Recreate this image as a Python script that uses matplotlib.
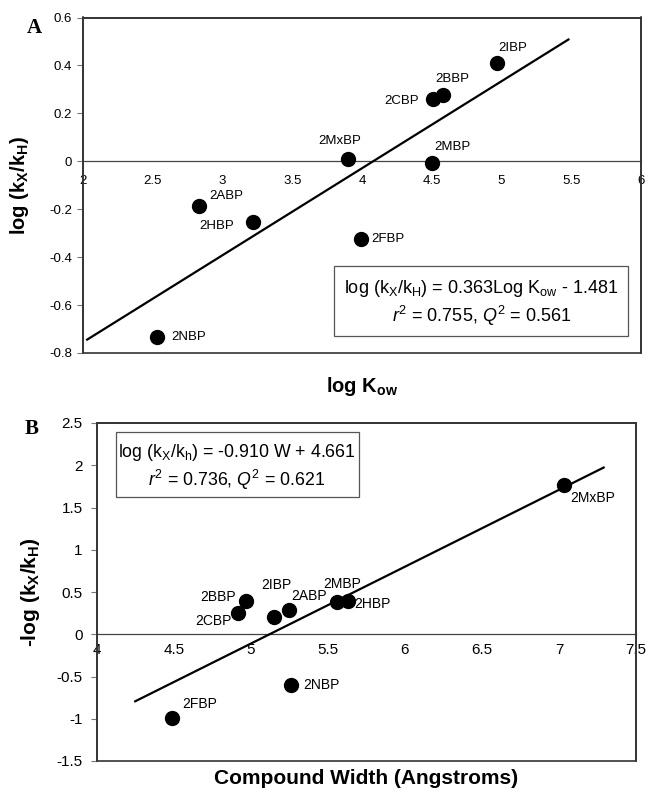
import matplotlib
matplotlib.use('Agg')
import matplotlib.pyplot as plt
from matplotlib.patches import Rectangle
from matplotlib.ticker import FuncFormatter
import numpy as np

plt.rcParams['font.family'] = ['Liberation Sans', 'DejaVu Sans']
plt.rcParams['axes.unicode_minus'] = False
plt.rcParams['mathtext.fontset'] = 'custom'
plt.rcParams['mathtext.rm'] = 'Liberation Sans'
plt.rcParams['mathtext.it'] = 'Liberation Sans:italic'
plt.rcParams['mathtext.bf'] = 'Liberation Sans:bold'

# panel A: log Kow vs log(kX/kH)
names_a = ['2IBP', '2BBP', '2CBP', '2MxBP', '2MBP', '2ABP', '2HBP', '2FBP', '2NBP']
logkow = [4.97, 4.58, 4.51, 3.90, 4.50, 2.83, 3.22, 3.99, 2.53]
logk_a = [0.411, 0.278, 0.258, 0.010, -0.008, -0.186, -0.254, -0.325, -0.735]
fit_a = (0.363, -1.481)
fit_a_range = (2.03, 5.48)

# panel B: compound width vs -log(kX/kH)
names_b = ['2MxBP', '2BBP', '2CBP', '2IBP', '2ABP', '2MBP', '2HBP', '2NBP', '2FBP']
width = [7.03, 4.97, 4.92, 5.15, 5.25, 5.56, 5.63, 5.26, 4.49]
logk_b = [1.765, 0.395, 0.253, 0.200, 0.290, 0.387, 0.395, -0.596, -0.987]
fit_b = (0.910, -4.661)
fit_b_range = (4.25, 7.29)

# label offsets (points)
off_a = [(11, 11), (7, 11), (-23, -1), (-6, 13), (15, 12), (20, 7), (-26, -3), (20, 0), (23, 0)]
off_b = [(21, -9), (-20, 3), (-18, -6), (2, 23), (14, 10), (4, 12.5), (18, -2), (22, 0), (20, 9.5)]


def tick_fmt(v, p):
    v = round(v, 3)
    if abs(v) < 1e-9:
        return '0'
    return '%g' % v


fmt = FuncFormatter(tick_fmt)
frame_col = '#333333'


def style_axes(ax, xlim, ylim, xticks, yticks, fs, xpad, ypad):
    ax.set_xlim(*xlim)
    ax.set_ylim(*ylim)
    ax.set_xticks(xticks)
    ax.set_yticks(yticks)
    ax.xaxis.set_major_formatter(fmt)
    ax.yaxis.set_major_formatter(fmt)
    ax.spines['bottom'].set_position(('data', 0))
    ax.spines['bottom'].set_color('#444444')
    ax.spines['bottom'].set_linewidth(0.9)
    for s in ['left', 'top', 'right']:
        ax.spines[s].set_color(frame_col)
        ax.spines[s].set_linewidth(1.2)
    ax.add_patch(Rectangle((0, 0), 1, 1, transform=ax.transAxes, fill=False,
                           edgecolor=frame_col, lw=1.2, clip_on=False, zorder=5))
    ax.tick_params(axis='y', direction='out', length=4, width=0.8, color='#777777',
                   labelsize=fs, pad=ypad)
    ax.tick_params(axis='x', direction='out', length=0, labelsize=fs, pad=xpad)


fig = plt.figure(figsize=(6.48, 7.89), dpi=100)

# ---- panel A
ax1 = fig.add_axes([83 / 648, 1 - 353 / 789, 558 / 648, 335.5 / 789])
style_axes(ax1, (2, 6), (-0.8, 0.6), np.arange(2, 6.01, 0.5),
           np.arange(-0.8, 0.61, 0.2), 9.5, 10, 4)
xf = np.linspace(*fit_a_range, 2)
ax1.plot(xf, fit_a[0] * xf + fit_a[1], color='black', lw=1.6, zorder=3)
ax1.plot(logkow, logk_a, 'o', color='black', ms=10, zorder=4)
for n, x, y, o in zip(names_a, logkow, logk_a, off_a):
    ax1.annotate(n, (x, y), xytext=o, textcoords='offset points',
                 ha='center', va='center', fontsize=9.5)
ax1.add_patch(Rectangle((3.80, -0.728), 2.11, 0.289, fill=False,
                        edgecolor='#555555', lw=0.9, zorder=2))
ax1.text(4.855, -0.529, r'log (k$_{\mathrm{X}}$/k$_{\mathrm{H}}$) = 0.363Log K$_{\mathrm{ow}}$ - 1.481',
         ha='center', va='center', fontsize=13)
ax1.text(4.855, -0.647, r'$\mathit{r}^{2}$ = 0.755, $\mathit{Q}^{2}$ = 0.561',
         ha='center', va='center', fontsize=13)
fig.text(362 / 648, 1 - 387 / 789, r'log K$_{\mathbf{ow}}$', ha='center', va='center',
         fontsize=14.5, fontweight='bold')
fig.text(20 / 648, 1 - 185 / 789, r'log (k$_{\mathbf{X}}$/k$_{\mathbf{H}}$)', ha='center',
         va='center', fontsize=14.5, fontweight='bold', rotation=90)
fig.text(34 / 648, 1 - 28 / 789, 'A', ha='center', va='center', fontsize=15,
         fontweight='bold', family='Liberation Serif')

# ---- panel B
ax2 = fig.add_axes([96.7 / 648, 1 - 761 / 789, 539.3 / 648, 338 / 789])
style_axes(ax2, (4, 7.5), (-1.5, 2.5), np.arange(4, 7.51, 0.5),
           np.arange(-1.5, 2.51, 0.5), 11, 6, 6)
xf = np.linspace(*fit_b_range, 2)
ax2.plot(xf, fit_b[0] * xf + fit_b[1], color='black', lw=1.6, zorder=3)
ax2.plot(width, logk_b, 'o', color='black', ms=10, zorder=4)
for n, x, y, o in zip(names_b, width, logk_b, off_b):
    ax2.annotate(n, (x, y), xytext=o, textcoords='offset points',
                 ha='center', va='center', fontsize=10)
ax2.add_patch(Rectangle((4.125, 1.62), 1.575, 0.773, fill=False,
                        edgecolor='#555555', lw=0.9, zorder=2))
ax2.text(4.91, 2.145, r'log (k$_{\mathrm{X}}$/k$_{\mathrm{h}}$) = -0.910 W + 4.661',
         ha='center', va='center', fontsize=12.8)
ax2.text(4.91, 1.83, r'$\mathit{r}^{2}$ = 0.736, $\mathit{Q}^{2}$ = 0.621',
         ha='center', va='center', fontsize=12.8)
fig.text(366 / 648, 1 - 778 / 789, 'Compound Width (Angstroms)', ha='center',
         va='center', fontsize=15, fontweight='bold')
fig.text(30 / 648, 1 - 592 / 789, r'-log (k$_{\mathbf{X}}$/k$_{\mathbf{H}}$)', ha='center',
         va='center', fontsize=15, fontweight='bold', rotation=90)
fig.text(32 / 648, 1 - 429 / 789, 'B', ha='center', va='center', fontsize=15,
         fontweight='bold', family='Liberation Serif')

fig.savefig('out.png', dpi=100)
